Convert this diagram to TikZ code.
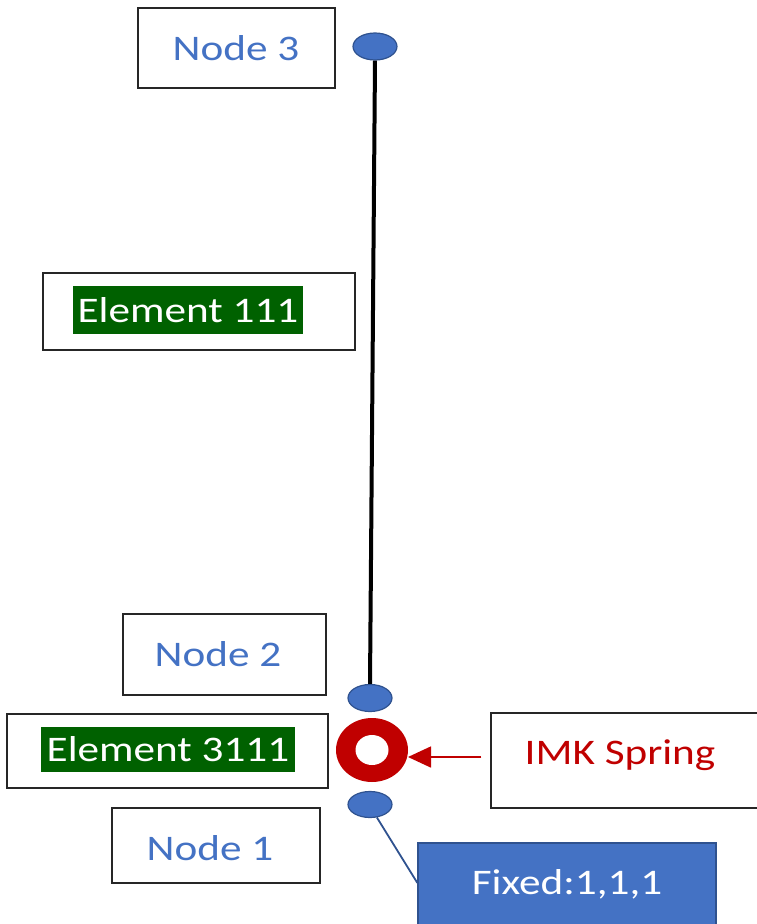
\documentclass[tikz,border=0pt]{standalone}
\usepackage{fontspec}
\setmainfont[FakeStretch=1.2]{Carlito}
\usetikzlibrary{shapes.geometric,arrows.meta,calc}
\definecolor{nblue}{HTML}{4472C4}
\definecolor{dblue}{HTML}{2F528F}
\definecolor{hgreen}{HTML}{006100}
\definecolor{sred}{HTML}{C00000}
\tikzset{
  box/.style={draw=black!85, line width=1.2pt, fill=white, inner sep=0pt},
  lbl/.style={font=\fontsize{36}{40}\selectfont, inner sep=0pt},
  hl/.style={lbl, fill=hgreen, text=white, minimum height=48pt},
  dot/.style={ellipse, draw=dblue, line width=1.2pt, fill=nblue, inner sep=0pt},
}
\begin{document}
\begin{tikzpicture}[x=1pt,y=-1pt]
\useasboundingbox (0,0) rectangle (757,924);
\clip (0,0) rectangle (757,924);
% boxes
\node[box, minimum width=197pt, minimum height=80pt] (b3) at (236.5,48) {};
\node[lbl, text=nblue] (t3) at (236,48) {Node 3};
\node[box, minimum width=312pt, minimum height=77pt] (b111) at (199,311.5) {};
\node[hl, minimum width=230pt] (t111) at (188,310) {Element 111};
\node[box, minimum width=203pt, minimum height=81pt] (b2) at (224.5,654.5) {};
\node[lbl, text=nblue] (t2) at (218,654) {Node 2};
\node[box, minimum width=321pt, minimum height=74pt] (b3111) at (167.5,751) {};
\node[hl, minimum width=254pt, minimum height=45pt] (t3111) at (168,749.5) {Element 3111};
\node[box, minimum width=208pt, minimum height=75pt] (b1) at (216,845.5) {};
\node[lbl, text=nblue] (t1) at (210,848) {Node 1};
\node[box, minimum width=269pt, minimum height=95pt] (imk) at (625.5,760.5) {};
\node[lbl, text=sred] (timk) at (620,755) {IMK Spring};
\node[box, draw=dblue, fill=nblue, minimum width=298pt, minimum height=87pt] (fixed) at (567,886.5) {};
\node[lbl, text=white] (tfixed) at (567,884) {Fixed:1,1,1};
% dots
\node[dot, minimum width=44pt, minimum height=27pt] (n3) at (375,46.5) {};
\node[dot, minimum width=44pt, minimum height=27pt] (n2) at (370,698) {};
\node[dot, minimum width=44pt, minimum height=26pt] (n1) at (370,804.5) {};
% element line
\draw[line width=4pt, black] (n3.south) -- (n2.north);
% spring ring
\node[ellipse, fill=sred, minimum width=72pt, minimum height=64pt, inner sep=0pt, outer sep=0pt] (spring) at (372,750) {};
\node[ellipse, fill=white, minimum width=33pt, minimum height=30pt, inner sep=0pt] (hole) at (spring.center) {};
% arrow
\draw[sred, line width=1.6pt, shorten <=9pt, -{Triangle[length=23pt,width=21pt]}] (imk.west |- 0,757) -- (spring.east |- 0,757);
% fixed connector
\draw[dblue, line width=1.8pt] (n1.-62) -- ($(fixed.north west)!0.46!(fixed.south west)$);
\end{tikzpicture}
\end{document}
